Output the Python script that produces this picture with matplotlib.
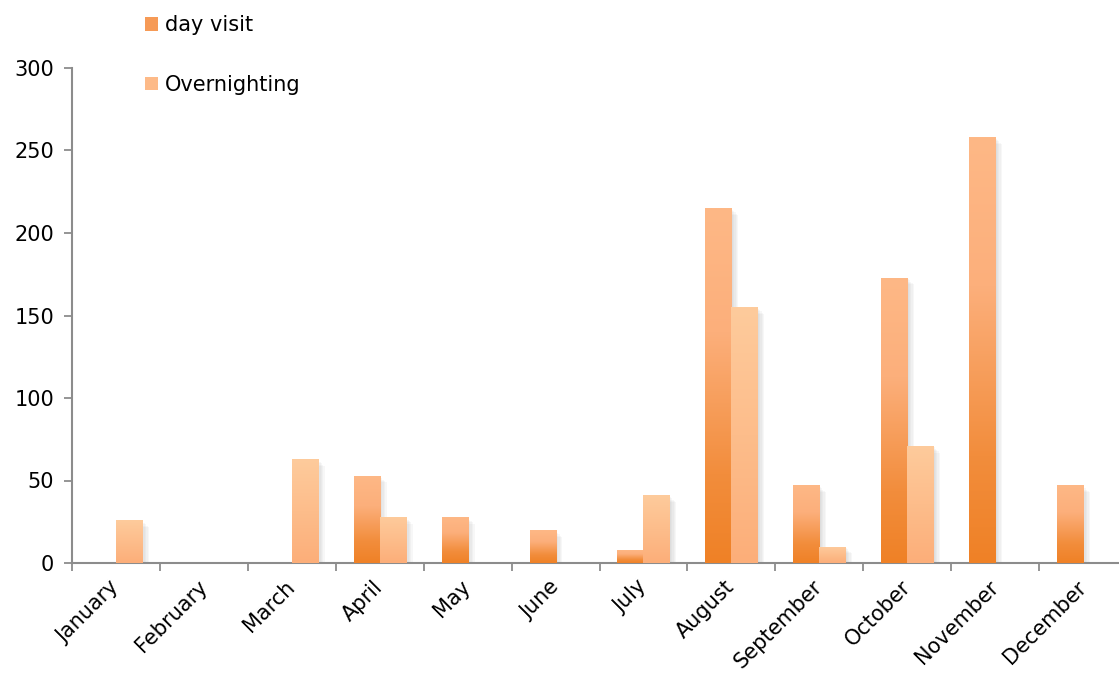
import numpy as np
import matplotlib
matplotlib.use("Agg")
import matplotlib.pyplot as plt
from matplotlib.colors import LinearSegmentedColormap
from matplotlib.patches import Patch
from matplotlib import patheffects as pe

plt.rcParams['font.family'] = ['DejaVu Sans']

months = ["January", "February", "March", "April", "May", "June",
          "July", "August", "September", "October", "November", "December"]
day_visit = [0, 0, 0, 53, 28, 20, 8, 215, 47, 173, 258, 47]
overnighting = [26, 0, 63, 28, 0, 0, 41, 155, 10, 71, 0, 0]
y_ticks = [0, 50, 100, 150, 200, 250, 300]

day_cmap = LinearSegmentedColormap.from_list(
    "day", [(0.0, "#EF8126"), (0.25, "#F28D3C"), (0.65, "#FCAF7B"), (1.0, "#FEB886")])
over_cmap = LinearSegmentedColormap.from_list(
    "over", [(0.0, "#FCAE79"), (0.5, "#FDBD8B"), (1.0, "#FECB9C")])

FS = 15

fig = plt.figure(figsize=(11.19, 6.73), dpi=100)
ax = fig.add_axes([72 / 1119, 110 / 673, 1055 / 1119, 495 / 673])

x = np.arange(len(months))
w = 0.296
grad = np.linspace(0, 1, 256).reshape(-1, 1)

shadow = [pe.SimplePatchShadow(offset=(d, -d), shadow_rgbFace="#9a9a9a", alpha=0.07)
          for d in (1, 2, 3, 4, 5)]


def gradient_bars(xpos, values, cmap):
    bars = ax.bar(xpos, values, width=w, facecolor="none", edgecolor="none",
                  zorder=2)
    for b in bars:
        h = b.get_height()
        if h <= 0:
            continue
        b.set_path_effects(shadow)
        x0 = b.get_x()
        im = ax.imshow(grad, cmap=cmap, origin="lower", aspect="auto",
                       extent=(x0, x0 + b.get_width(), 0, h), zorder=3,
                       interpolation="bilinear")
        im.set_clip_path(b)
    return bars


gradient_bars(x - w / 2, day_visit, day_cmap)
gradient_bars(x + w / 2, overnighting, over_cmap)

ax.set_xlim(-0.5, len(months) - 0.5)
ax.set_ylim(0, 300)
ax.set_yticks(y_ticks)
ax.tick_params(axis="y", direction="out", length=6, width=1.3, color="#8c8c8c",
               labelsize=FS, pad=7)

ax.set_xticks(x)
ax.set_xticklabels(months, rotation=45, ha="right", va="center",
                   rotation_mode="anchor", fontsize=FS)
ax.tick_params(axis="x", which="major", length=0, pad=15)
ax.set_xticks(np.arange(-0.5, len(months), 1.0), minor=True)
ax.tick_params(axis="x", which="minor", direction="out", length=6, width=1.3,
               color="#8c8c8c")

for side in ("top", "right"):
    ax.spines[side].set_visible(False)
for side in ("left", "bottom"):
    ax.spines[side].set_color("#8c8c8c")
    ax.spines[side].set_linewidth(1.5)

handles = [Patch(facecolor="#F69A56", edgecolor="none", label="day visit"),
           Patch(facecolor="#FDBA88", edgecolor="none", label="Overnighting")]
fig.legend(handles=handles, loc="upper left", bbox_to_anchor=(135 / 1119, 1 - 5 / 673),
           frameon=False, fontsize=FS, handlelength=0.62, handleheight=0.62,
           handletextpad=0.3, labelspacing=1.9, borderpad=0)

fig.savefig("out.png", dpi=100)
